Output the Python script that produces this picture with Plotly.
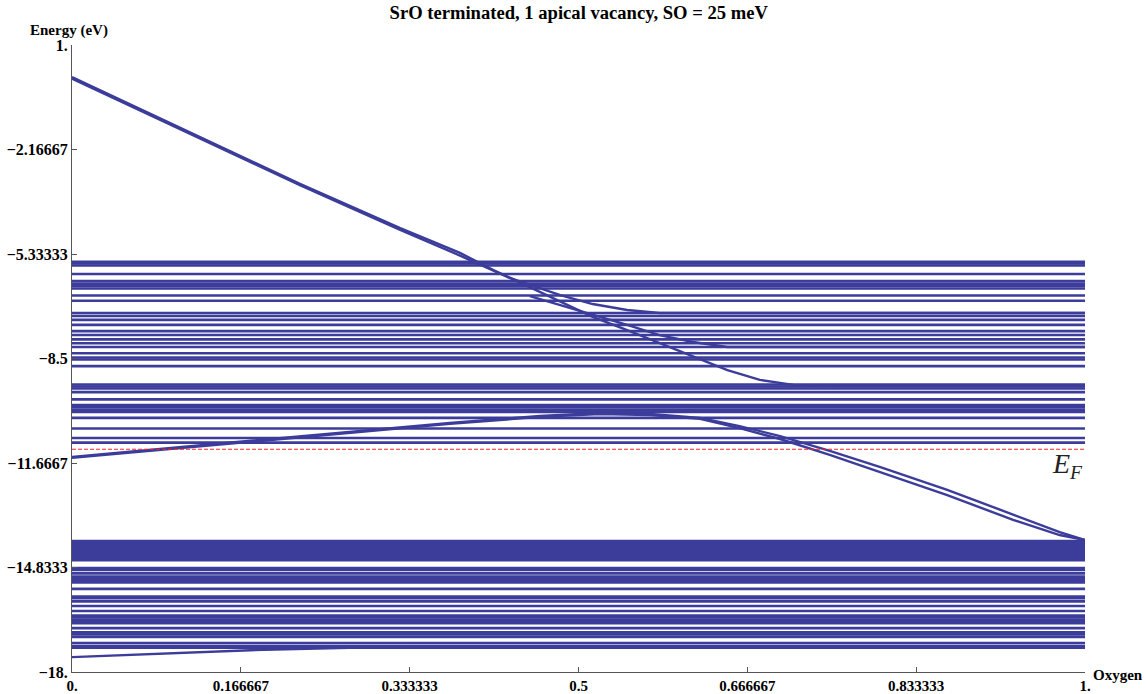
import plotly.graph_objects as go

# ---------------- data ----------------
# flat band levels (eV), span the whole x range 0..1
upper_levels = [-5.57, -5.62, -5.68, -5.94, -6.15, -6.23, -6.30, -6.38, -6.59, -6.75,
                -7.12, -7.21, -7.33, -7.48, -7.67, -7.79, -7.92, -8.04, -8.15, -8.34,
                -8.47, -8.53, -8.73, -9.29, -9.35, -9.41, -9.52, -9.74, -9.91, -9.98,
                -10.06, -10.12, -10.30, -10.62, -10.91, -11.05]
lower_levels = [-14.03, -14.09, -14.15, -14.21, -14.27, -14.33, -14.39, -14.45, -14.51, -14.57,
                -14.61, -14.85, -14.91, -15.01, -15.11, -15.16, -15.20, -15.25, -15.29, -15.48,
                -15.71, -15.76, -15.86, -16.00, -16.15, -16.29, -16.34, -16.41, -16.46, -16.52,
                -16.67, -16.80, -16.86, -16.94, -17.12, -17.21, -17.26]

# dispersing vacancy-related states (x = oxygen coordinate, y = energy in eV)
c1_x = [0, 0.126, 0.225, 0.324, 0.383, 0.416, 0.465, 0.514, 0.548, 0.580, 0.613, 0.647, 0.679, 0.712, 0.768, 1.0]
c1_e = [0.03, -1.79, -3.21, -4.55, -5.30, -5.82, -6.52, -7.24, -7.64, -8.03, -8.45, -8.85, -9.15, -9.30, -9.33, -9.33]

c2_x = [0, 0.126, 0.225, 0.324, 0.383, 0.432, 0.482, 0.514, 0.548, 0.580, 1.0]
c2_e = [-0.02, -1.83, -3.25, -4.60, -5.38, -6.06, -6.58, -6.85, -7.03, -7.12, -7.12]

c3_x = [0.452, 0.499, 0.548, 0.580, 0.613, 0.647, 1.0]
c3_e = [-6.61, -7.03, -7.48, -7.79, -8.00, -8.15, -8.15]

b1_x = [0, 0.077, 0.176, 0.274, 0.373, 0.462, 0.521, 0.571, 0.620, 0.659, 0.699, 0.748, 0.798, 0.864, 0.929, 0.975, 1.0]
b1_e = [-11.48, -11.27, -11.00, -10.73, -10.45, -10.24, -10.15, -10.18, -10.30, -10.55, -10.85, -11.30, -11.79, -12.48, -13.24, -13.76, -14.00]

b2_x = [0, 0.077, 0.176, 0.274, 0.373, 0.462, 0.521, 0.571, 0.620, 0.659, 0.699, 0.748, 0.798, 0.864, 0.929, 0.975, 1.0]
b2_e = [-11.51, -11.30, -11.03, -10.76, -10.48, -10.27, -10.18, -10.21, -10.33, -10.61, -10.94, -11.42, -11.94, -12.64, -13.39, -13.85, -14.00]

d_x = [0, 0.077, 0.176, 0.274, 0.33]
d_e = [-17.55, -17.45, -17.34, -17.27, -17.26]

fermi_level = -11.25

x_ticks = [0, 0.166667, 0.333333, 0.5, 0.666667, 0.833333, 1.0]
x_ticktext = ["0.", "0.166667", "0.333333", "0.5", "0.666667", "0.833333", "1."]
y_ticks = [1, -2.16667, -5.33333, -8.5, -11.6667, -14.8333, -18]
y_ticktext = ["1.", "\u22122.16667", "\u22125.33333", "\u22128.5", "\u221211.6667", "\u221214.8333", "\u221218."]

title_text = "SrO terminated, 1 apical vacancy, SO = 25 meV"
# ---------------------------------------------------------------

LINE = "rgb(60,60,155)"
FONT = "Liberation Serif, Times New Roman, Times, serif"

fig = go.Figure()

flat_x, flat_y = [], []
for lv in upper_levels + lower_levels:
    flat_x += [0, 1, None]
    flat_y += [lv, lv, None]
fig.add_trace(go.Scatter(x=flat_x, y=flat_y, mode="lines",
                         line=dict(color=LINE, width=2.6), hoverinfo="skip"))

for cx, ce in [(c1_x, c1_e), (c2_x, c2_e), (c3_x, c3_e), (b1_x, b1_e), (b2_x, b2_e), (d_x, d_e)]:
    fig.add_trace(go.Scatter(x=cx, y=ce, mode="lines",
                             line=dict(color=LINE, width=2.4), hoverinfo="skip"))

fig.add_trace(go.Scatter(x=[0, 1], y=[fermi_level, fermi_level], mode="lines",
                         line=dict(color="rgb(240,40,40)", width=1.2, dash="4px,2px"),
                         hoverinfo="skip"))

fig.update_layout(
    width=1146, height=694,
    margin=dict(l=72, r=61, t=45, b=22),
    paper_bgcolor="white", plot_bgcolor="white",
    showlegend=False,
    font=dict(family=FONT, size=15, color="black"),
    title=dict(text="<b>" + title_text + "</b>", x=0.505, xanchor="center",
               y=1 - 12 / 694, yanchor="middle",
               font=dict(family=FONT, size=18.6, color="black")),
    xaxis=dict(range=[0, 1], showgrid=False, zeroline=False, automargin=False,
               showline=True, linecolor="#555", linewidth=1,
               ticks="inside", ticklen=5, tickcolor="#555",
               tickvals=x_ticks, ticktext=["<b>" + t + "</b>" for t in x_ticktext],
               tickfont=dict(family=FONT, size=15, color="black")),
    yaxis=dict(range=[-18, 1], showgrid=False, zeroline=False, automargin=False,
               showline=True, linecolor="#555", linewidth=1,
               ticks="inside", ticklen=5, tickcolor="#555",
               tickvals=y_ticks, ticktext=["<b>" + t + "</b>" for t in y_ticktext],
               tickfont=dict(family=FONT, size=16, color="black")),
    annotations=[
        dict(text="<b>Energy (eV)</b>", xref="paper", yref="paper", x=0, y=1,
             xanchor="center", yanchor="bottom", xshift=-3, yshift=4, showarrow=False,
             font=dict(family=FONT, size=15, color="black")),
        dict(text="<b>Oxygen</b>", xref="paper", yref="paper", x=1, y=0,
             xanchor="left", yanchor="middle", xshift=6, yshift=-3, showarrow=False,
             font=dict(family=FONT, size=15, color="black")),
        dict(text="<i>E</i><sub><i>F</i></sub>", xref="paper", yref="y",
             x=0.965, y=fermi_level, xanchor="left", yanchor="top", yshift=3,
             showarrow=False, font=dict(family=FONT, size=28, color="#222")),
    ],
)

fig.write_html("out.html", config={"displayModeBar": False},
               post_script="document.body.style.margin='0';document.body.style.overflow='hidden';")
